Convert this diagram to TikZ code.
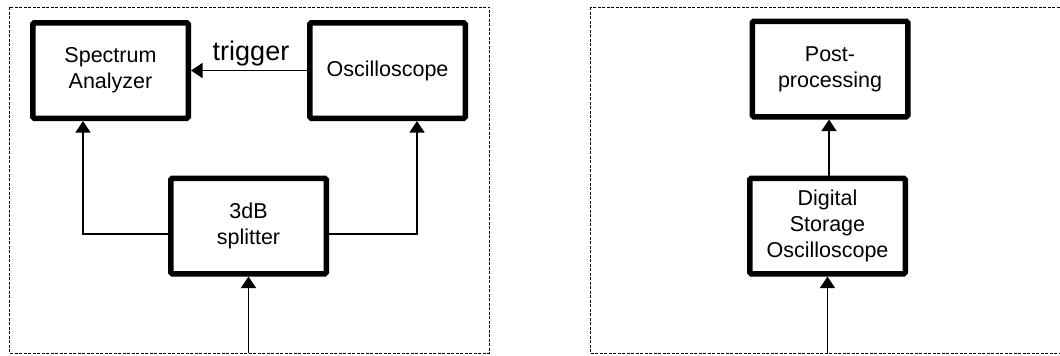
\documentclass[tikz,border=0pt]{standalone}
\usepackage{fontspec}
\setmainfont{Liberation Sans}
\usetikzlibrary{arrows.meta}
\begin{document}
\begin{tikzpicture}[x=1pt,y=-1pt,
  blk/.style={draw,line width=5.5pt,rounded corners=1.5pt,minimum width=155.5pt,minimum height=95.5pt,
    align=center,inner sep=0pt,font=\fontsize{21.5}{25.8}\selectfont},
  conn/.style={line width=1.2pt,-{Triangle[width=15pt,length=11.5pt]}},
  panel/.style={line width=1pt,dash pattern=on 3pt off 1.5pt},
  lbl/.style={font=\fontsize{27}{32}\selectfont}]
\useasboundingbox (0,0) rectangle (1060,356);
\clip (0,0) rectangle (1060,356);
\draw[panel] (9.5,7) rectangle (489,353);
\draw[panel] (590,7) rectangle (1075,353);
\node[blk] (sa) at (110.5,70.5) {Spectrum\\Analyzer};
\node[blk] (os) at (387.5,70.5) {Oscilloscope};
\node[blk] (sp) at (248.5,226) {3dB\\splitter};
\node[blk] (pp) at (830,69) {Post-\\processing};
\node[blk] (dso) at (827.5,226) {Digital\\Storage\\Oscilloscope};
\coordinate (in1) at (248.5,353);
\coordinate (in2) at (827.5,353);
\draw[conn] (os.west) -- node[lbl,above,xshift=2pt] {trigger} (sa.east);
\draw[conn] ([yshift=-8pt]sp.west) -| ([xshift=-27.5pt]sa.south);
\draw[conn] ([yshift=-8pt]sp.east) -| ([xshift=29.5pt]os.south);
\draw[conn] (in1) -- (sp.south);
\draw[conn] (in2) -- (dso.south);
\draw[conn] ([xshift=1.5pt]dso.north) -- ([xshift=1.5pt]dso.north |- pp.south);
\end{tikzpicture}
\end{document}
